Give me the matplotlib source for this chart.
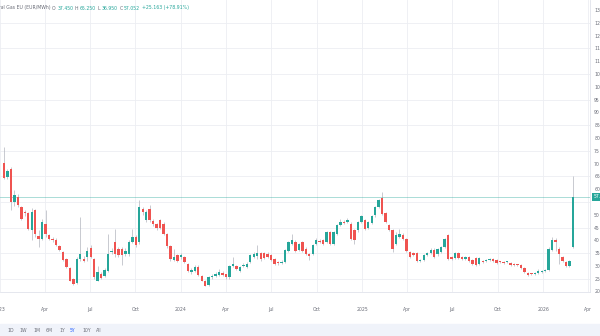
import matplotlib
matplotlib.use("Agg")
import matplotlib.pyplot as plt
import matplotlib.dates as mdates
import matplotlib.transforms as mtransforms
import pandas as pd

# weekly OHLC, EU natural gas (EUR/MWh), first bar = week of 2023-01-09
opens = [70.2, 64.9, 67.8, 55.0, 56.8, 53.1, 51.1, 50.5, 44.0, 51.8,
         41.5, 40.6, 46.5, 41.9, 40.6, 40.2, 37.6, 35.4, 32.7, 29.1,
         24.9, 23.2, 32.7, 32.7, 33.4, 37.1, 32.7, 24.2, 26.8, 26.2,
         28.1, 35.4, 39.3, 36.7, 36.7, 34.7, 34.7, 39.3, 41.3, 39.3,
         52.4, 47.8, 52.4, 47.5, 46.2, 47.8, 46.5, 42.6, 37.6, 32.4,
         34.1, 33.4, 33.4, 30.7, 27.5, 28.0, 29.7, 26.2, 24.2, 22.6,
         25.5, 26.0, 26.6, 27.3, 26.8, 25.5, 29.8, 29.8, 28.1, 29.8,
         29.4, 31.4, 33.4, 33.8, 35.0, 35.0, 34.7, 34.1, 32.7, 31.7,
         31.0, 31.4, 36.0, 38.7, 39.3, 36.3, 39.3, 36.7, 34.7, 34.7,
         38.4, 39.9, 40.0, 39.3, 43.2, 38.7, 42.6, 45.9, 47.2, 47.2,
         46.5, 43.9, 43.9, 47.2, 47.8, 45.0, 46.8, 49.8, 53.1, 56.4,
         50.5, 45.9, 43.9, 38.7, 41.3, 42.2, 40.6, 35.4, 35.0, 35.0,
         32.0, 32.4, 34.1, 35.0, 36.3, 34.5, 35.4, 37.4, 41.9, 33.4,
         33.2, 35.0, 33.4, 32.7, 33.4, 32.4, 33.0, 30.7, 31.8, 32.1,
         32.4, 32.7, 32.4, 31.6, 31.4, 31.4, 31.1, 30.7, 30.4, 30.2,
         29.1, 27.4, 26.9, 26.8, 27.3, 27.6, 28.0, 28.4, 36.3, 40.0,
         36.7, 33.4, 31.4, 29.8, 37.45]
highs = [76.5, 68.0, 68.5, 59.5, 58.0, 53.6, 51.8, 51.2, 52.5, 52.4,
         43.9, 48.3, 51.8, 42.5, 41.2, 40.8, 38.2, 36.0, 33.2, 29.6,
         25.4, 33.4, 49.1, 34.0, 37.3, 38.0, 33.2, 30.1, 27.5, 29.0,
         42.6, 37.0, 44.6, 37.5, 37.2, 37.0, 40.0, 44.6, 42.0, 55.7,
         53.0, 52.0, 53.7, 48.5, 46.8, 48.5, 47.0, 43.0, 38.0, 36.7,
         34.5, 35.0, 34.0, 31.0, 29.0, 30.2, 30.2, 26.5, 24.5, 26.0,
         27.0, 27.5, 28.8, 28.0, 27.0, 30.5, 33.4, 30.5, 30.0, 31.0,
         31.4, 34.5, 35.5, 38.0, 35.5, 35.5, 35.3, 34.5, 33.0, 32.0,
         32.2, 36.7, 39.8, 42.6, 40.0, 39.0, 39.8, 37.2, 35.2, 38.5,
         40.8, 40.5, 40.6, 43.6, 43.8, 43.7, 46.3, 48.5, 47.8, 48.8,
         47.0, 44.4, 47.7, 49.9, 48.3, 47.5, 49.9, 53.6, 56.2, 59.0,
         51.0, 46.4, 44.4, 43.2, 44.6, 42.7, 41.0, 35.9, 35.5, 35.5,
         32.8, 34.5, 35.5, 36.8, 36.8, 37.0, 37.9, 41.0, 42.3, 33.9,
         35.5, 35.5, 33.9, 33.8, 33.8, 32.8, 33.4, 33.4, 32.2, 32.8,
         33.1, 33.1, 32.8, 32.0, 31.8, 32.0, 31.5, 31.1, 30.8, 30.6,
         29.5, 27.8, 27.3, 27.7, 28.9, 28.5, 28.8, 37.5, 41.3, 41.0,
         37.2, 33.8, 31.8, 32.3, 65.25]
lows = [63.8, 63.9, 51.8, 53.6, 52.9, 48.0, 49.6, 44.0, 40.0, 41.2,
        37.3, 40.0, 41.3, 40.1, 39.5, 37.6, 35.9, 32.0, 29.0, 24.0,
        22.6, 22.9, 32.1, 31.6, 32.1, 33.0, 25.0, 24.0, 25.0, 25.8,
        27.8, 34.5, 33.4, 33.5, 30.5, 34.0, 34.0, 38.8, 37.5, 38.5,
        50.0, 47.0, 47.0, 45.5, 44.0, 44.5, 42.0, 37.0, 32.0, 32.0,
        31.5, 32.5, 31.0, 27.8, 27.0, 27.6, 26.0, 24.0, 22.0, 22.3,
        25.0, 25.5, 26.2, 26.0, 25.0, 25.0, 29.5, 28.5, 27.8, 29.5,
        29.0, 31.0, 33.0, 32.5, 32.0, 32.8, 33.0, 32.0, 30.4, 30.5,
        30.7, 31.0, 35.5, 38.2, 35.5, 35.8, 35.6, 34.3, 32.4, 34.2,
        38.0, 38.8, 38.2, 38.8, 38.2, 38.3, 42.2, 45.4, 46.2, 46.8,
        40.2, 38.7, 43.4, 46.8, 44.2, 44.5, 46.3, 49.3, 52.7, 49.8,
        46.8, 43.8, 35.4, 38.2, 40.9, 40.2, 35.6, 33.0, 33.7, 31.7,
        31.6, 32.0, 33.7, 34.6, 33.0, 34.0, 35.0, 37.0, 32.3, 32.3,
        32.8, 32.8, 32.3, 32.3, 31.7, 30.3, 30.1, 30.3, 31.0, 31.7,
        32.0, 31.7, 30.7, 31.0, 30.7, 31.0, 30.1, 29.8, 29.8, 28.7,
        27.2, 26.2, 26.3, 26.4, 26.9, 27.2, 27.6, 28.0, 35.9, 36.0,
        30.7, 31.7, 29.4, 29.4, 36.95]
closes = [64.3, 66.9, 55.0, 57.7, 53.7, 48.5, 50.5, 44.6, 51.1, 42.6,
          40.6, 47.2, 42.6, 40.6, 40.0, 38.0, 36.3, 32.4, 29.4, 24.2,
          22.9, 32.7, 34.7, 32.1, 36.0, 33.4, 25.5, 27.5, 25.3, 28.4,
          34.7, 36.0, 34.7, 34.1, 34.1, 36.0, 39.3, 41.3, 38.0, 53.1,
          51.1, 51.1, 47.8, 46.2, 44.9, 45.0, 42.6, 37.6, 32.7, 33.4,
          32.1, 34.1, 31.4, 28.1, 28.4, 29.7, 26.5, 24.2, 22.3, 25.5,
          26.2, 26.8, 27.5, 26.5, 25.5, 30.1, 30.7, 28.8, 29.4, 30.3,
          30.7, 34.1, 34.7, 35.0, 32.7, 33.2, 33.4, 32.4, 30.7, 31.0,
          31.7, 36.3, 39.3, 40.0, 36.0, 38.5, 36.0, 34.7, 33.8, 38.0,
          40.2, 39.3, 38.7, 43.2, 38.7, 43.2, 45.9, 47.2, 46.8, 48.1,
          40.6, 40.0, 47.2, 49.4, 44.6, 47.0, 49.4, 53.1, 55.7, 50.2,
          47.2, 44.2, 36.7, 41.9, 42.6, 40.6, 36.0, 33.4, 34.1, 32.1,
          32.3, 34.1, 35.0, 36.3, 33.4, 36.5, 37.4, 40.6, 32.7, 32.7,
          35.0, 33.2, 32.7, 33.4, 32.1, 30.7, 30.5, 33.0, 31.4, 32.4,
          32.7, 32.1, 31.1, 31.4, 31.1, 31.6, 30.5, 30.2, 30.2, 29.1,
          27.6, 26.6, 26.7, 27.3, 27.9, 28.1, 28.4, 36.7, 40.0, 39.3,
          34.7, 32.1, 29.8, 31.889, 57.052]

year_ticks = ["2023-01-01", "2023-04-01", "2023-07-01", "2023-10-01",
              "2024-01-01", "2024-04-01", "2024-07-01", "2024-10-01",
              "2025-01-01", "2025-04-01", "2025-07-01", "2025-10-01",
              "2026-01-01", "2026-04-01"]
tick_labels = ["2023", "Apr", "Jul", "Oct", "2024", "Apr", "Jul", "Oct",
               "2025", "Apr", "Jul", "Oct", "2026", "Apr"]
price_ticks = [20, 25, 30, 35, 40, 45, 50, 60, 65, 70, 75, 80, 85, 90,
               95, 100, 105, 110, 115, 120, 125, 130]
grid_levels = [25, 35, 45, 55, 65, 75, 85, 95, 105, 115, 125]
ranges = ["1D", "1W", "1M", "6M", "1Y", "5Y", "10Y", "All"]

UP = "#26a69a"
DOWN = "#ef5350"
WICK = "#b2b5be"
TXT = "#6a6d78"

W, H = 600, 336
fig = plt.figure(figsize=(W / 100, H / 100), dpi=100)
fig.patch.set_facecolor("white")

ax = fig.add_axes([0, 44 / H, 590 / W, 292 / H])
weeks = pd.date_range("2023-01-09", periods=len(closes), freq="7D")
x = mdates.date2num(weeks)

for lvl in grid_levels:
    ax.axhline(lvl, color="#eceef2", lw=0.6, zorder=0)
xt = mdates.date2num(pd.to_datetime(year_ticks))
for v in xt:
    ax.axvline(v, color="#eceef2", lw=0.6, zorder=0)

# candles
for xi, o, h, l, c in zip(x, opens, highs, lows, closes):
    col = UP if c >= o else DOWN
    ax.vlines(xi, l, h, color=WICK, lw=0.5, zorder=1)
    body = max(abs(c - o), 0.35)
    ax.bar(xi, body, bottom=min(o, c), width=4.8, color=col, lw=0, zorder=2)

last = closes[-1]
ax.axhline(last, color=UP, lw=0.6, alpha=0.45, zorder=1)

d0 = mdates.date2num(pd.Timestamp("2023-01-01"))
ax.set_xlim(d0 + 5.6, d0 + 1190.4)
ax.set_ylim(19.8, 133.9)

for s in ["top", "left"]:
    ax.spines[s].set_visible(False)
for s in ["bottom", "right"]:
    ax.spines[s].set_color("#e0e3eb")
    ax.spines[s].set_linewidth(0.6)

ax.set_xticks(xt)
ax.set_xticklabels(tick_labels)
ax.yaxis.tick_right()
ax.set_yticks(price_ticks)
ax.set_yticklabels([str(p) for p in price_ticks])
ax.tick_params(axis="x", length=0, labelsize=3.3, colors=TXT, pad=11)
ax.tick_params(axis="y", length=0, labelsize=3.3, colors=TXT, pad=3)

# last price tag on the price scale
tr = mtransforms.blended_transform_factory(ax.transAxes, ax.transData)
ax.text(1.006, last, f"{last:.3f}", transform=tr, ha="left", va="center",
        color="white", fontsize=3.3, clip_on=False,
        bbox=dict(boxstyle="square,pad=0.35", fc=UP, ec="none"))

# legend line
renderer = fig.canvas.get_renderer()
chg = closes[-1] - closes[-2]
pct = chg / closes[-2] * 100
pieces = [("Natural Gas EU (EUR/MWh)", TXT), ("O", TXT), (f"{opens[-1]:.3f}", UP),
          ("H", TXT), (f"{highs[-1]:.3f}", UP), ("L", TXT), (f"{lows[-1]:.3f}", UP),
          ("C", TXT), (f"{closes[-1]:.3f}", UP), (f"+{chg:.3f} (+{pct:.2f}%)", UP)]
probe = fig.text(0, 0, "Natur", fontsize=3.3)
xpos = 0.5 - probe.get_window_extent(renderer).width
probe.remove()
for s, col in pieces:
    t = fig.text(xpos / W, 1 - 8 / H, s, color=col, fontsize=3.3, ha="left", va="center")
    xpos += t.get_window_extent(renderer).width + 1.6

# range selector strip
fig.patches.append(plt.Rectangle((0, 0), 1, 12 / H, transform=fig.transFigure,
                                 color="#f0f3fa", zorder=0))
for lab, cx in zip(ranges, [11, 23, 37, 49, 62, 73, 87, 99]):
    fig.text(cx / W, 5 / H, lab, fontsize=3.3, ha="center", va="center",
             color="#2962ff" if lab == "5Y" else TXT)

fig.savefig("out.png", dpi=100)
